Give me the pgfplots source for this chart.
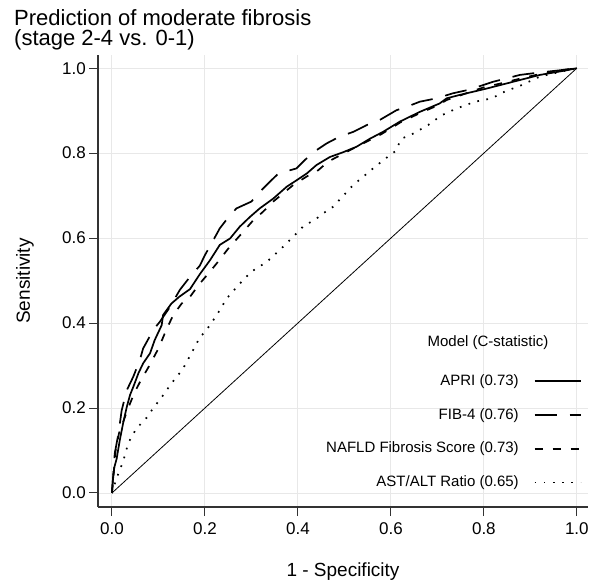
\documentclass[border=0pt]{standalone}
\usepackage{pgfplots}
\pgfplotsset{compat=1.18}
\usepackage{fontspec}
\setmainfont{Liberation Sans}

\begin{document}
\begin{tikzpicture}
\useasboundingbox (0,0) rectangle (598bp,582bp);
\begin{axis}[
    at={(98bp,75bp)}, anchor=south west,
    scale only axis, width=490bp, height=452bp,
    xmin=-0.030, xmax=1.024,
    ymin=-0.033, ymax=1.031,
    axis x line*=bottom, axis y line*=left,
    axis line style={line width=1.2bp, black!80, -},
    xtick={0,0.2,0.4,0.6,0.8,1},
    ytick={0,0.2,0.4,0.6,0.8,1},
    xticklabels={0.0,0.2,0.4,0.6,0.8,1.0},
    yticklabels={0.0,0.2,0.4,0.6,0.8,1.0},
    tick align=outside, major tick length=9bp,
    tick style={line width=1bp, black!80},
    grid=major, grid style={line width=0.9bp, black!9},
    ticklabel style={font=\fontsize{17bp}{20bp}\selectfont},
    yticklabel style={inner sep=0pt, xshift=-3bp},
    xticklabel style={inner sep=0pt, yshift=-6.5bp},
    legend plot pos=right,
    legend cell align=right,
    legend image code/.code={\draw[#1] (0bp,0bp) -- (46bp,0bp);},
    legend style={draw=none, fill=none, inner sep=0pt,
        at={(0.987,0.294)}, anchor=north east,
        font=\fontsize{15bp}{18bp}\selectfont,
        column sep=15bp, row sep=19.7bp,
        nodes={inner sep=0pt, text height=11bp, text depth=3bp}},
]

% reference line
\addplot[black, line width=0.8bp, forget plot] coordinates {(0,0) (1,1)};

% APRI
\addplot[black, line width=1.7bp] coordinates {
(0,0) (0.002,0.03) (0.005,0.06) (0.010,0.08) (0.017,0.125) (0.024,0.164)
(0.032,0.203) (0.039,0.231) (0.046,0.250) (0.057,0.282) (0.067,0.305)
(0.082,0.329) (0.092,0.36) (0.107,0.395) (0.110,0.419) (0.128,0.446)
(0.145,0.462) (0.168,0.48) (0.189,0.515) (0.211,0.548) (0.232,0.584)
(0.254,0.599) (0.275,0.627) (0.297,0.650) (0.318,0.670) (0.347,0.693)
(0.376,0.721) (0.397,0.736) (0.419,0.752) (0.440,0.772) (0.469,0.791)
(0.497,0.802) (0.526,0.815) (0.555,0.834) (0.583,0.850) (0.619,0.874)
(0.662,0.897) (0.705,0.917) (0.720,0.929) (0.748,0.937) (0.806,0.952)
(0.863,0.968) (0.920,0.984) (0.978,0.995) (1,1)};
\addlegendentry{APRI (0.73)}

% FIB-4
\addplot[black, line width=1.7bp, dash pattern=on 22bp off 13bp] coordinates {
(0,0) (0.003,0.046) (0.006,0.093) (0.014,0.140) (0.021,0.195) (0.032,0.242)
(0.046,0.274) (0.060,0.313) (0.067,0.340) (0.089,0.384) (0.103,0.403)
(0.125,0.438) (0.146,0.478) (0.168,0.509) (0.189,0.535) (0.200,0.56)
(0.218,0.595) (0.232,0.623) (0.254,0.654) (0.268,0.670) (0.300,0.686)
(0.318,0.709) (0.340,0.733) (0.358,0.752) (0.397,0.764) (0.415,0.784)
(0.440,0.807) (0.462,0.823) (0.490,0.839) (0.519,0.850) (0.548,0.866)
(0.576,0.878) (0.612,0.901) (0.634,0.909) (0.662,0.921) (0.698,0.929)
(0.734,0.941) (0.763,0.948) (0.798,0.96) (0.820,0.968) (0.849,0.976)
(0.877,0.984) (0.906,0.988) (0.963,0.995) (1,1)};
\addlegendentry{FIB-4 (0.76)}

% NAFLD Fibrosis Score
\addplot[black, line width=1.7bp, dash pattern=on 8bp off 10bp] coordinates {
(0,0) (0.004,0.05) (0.008,0.10) (0.015,0.14) (0.025,0.17) (0.035,0.20)
(0.048,0.235) (0.062,0.265) (0.078,0.295) (0.100,0.34) (0.118,0.387)
(0.132,0.419) (0.150,0.446) (0.168,0.462) (0.189,0.493) (0.210,0.52)
(0.225,0.54) (0.250,0.575) (0.280,0.612) (0.304,0.642) (0.325,0.662)
(0.347,0.686) (0.390,0.725) (0.419,0.745) (0.444,0.760) (0.465,0.780)
(0.519,0.811) (0.548,0.827) (0.580,0.845) (0.620,0.872) (0.660,0.893)
(0.700,0.912) (0.720,0.925) (0.760,0.940) (0.800,0.955) (0.840,0.965)
(0.880,0.976) (0.920,0.986) (0.960,0.994) (1,1)};
\addlegendentry{NAFLD Fibrosis Score (0.73)}

% AST/ALT ratio
\addplot[black, line width=1.7bp, dash pattern=on 1.7bp off 7.5bp] coordinates {
(0,0) (0.010,0.035) (0.024,0.074) (0.035,0.117) (0.044,0.136) (0.053,0.152)
(0.064,0.165) (0.077,0.180) (0.087,0.197) (0.108,0.227) (0.128,0.258)
(0.152,0.291) (0.171,0.329) (0.188,0.364) (0.211,0.395) (0.230,0.427)
(0.247,0.458) (0.275,0.493) (0.300,0.521) (0.333,0.544) (0.361,0.572)
(0.386,0.599) (0.411,0.627) (0.440,0.646) (0.454,0.658) (0.476,0.674)
(0.497,0.699) (0.519,0.725) (0.540,0.744) (0.566,0.768) (0.594,0.792)
(0.609,0.804) (0.623,0.834) (0.648,0.846) (0.680,0.866) (0.709,0.889)
(0.741,0.905) (0.781,0.921) (0.817,0.929) (0.845,0.945) (0.881,0.96)
(0.920,0.980) (0.963,0.991) (1,1)};
\addlegendentry{AST/ALT Ratio (0.65)}

\end{axis}

% titles and labels
\node[anchor=base west, font=\fontsize{22bp}{22bp}\selectfont, inner sep=0pt] at (14bp,556bp) {Prediction of moderate fibrosis};
\node[anchor=base west, font=\fontsize{22bp}{22bp}\selectfont, inner sep=0pt] at (14bp,536bp) {(stage 2-4 vs. 0-1)};
\node[anchor=base, font=\fontsize{19bp}{19bp}\selectfont, inner sep=0pt] at (343bp,6bp) {1 - Specificity};
\node[rotate=90, font=\fontsize{19bp}{19bp}\selectfont, inner sep=0pt] at (25bp,301bp) {Sensitivity};
\node[anchor=base, font=\fontsize{15bp}{15bp}\selectfont, inner sep=0pt] at (488bp,235bp) {Model (C-statistic)};
\end{tikzpicture}
\end{document}
